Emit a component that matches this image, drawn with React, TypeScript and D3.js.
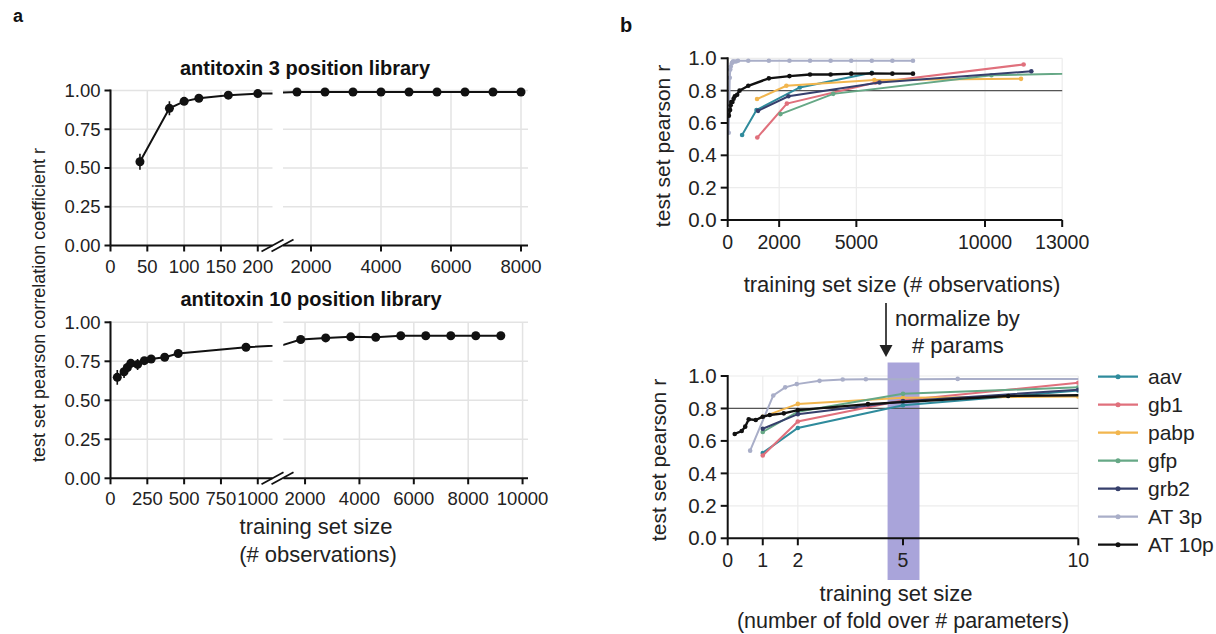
import React from 'react';
import * as d3 from 'd3';

const FONT = '"Liberation Sans", Arial, Helvetica, sans-serif';

// panel a: antitoxin 3 position library
const at3X = [40, 80, 100, 120, 160, 200, 1600, 2400, 3200, 4000, 4800, 5600, 6400, 7200, 8000];
const at3R = [0.54, 0.885, 0.93, 0.95, 0.97, 0.98, 0.99, 0.99, 0.99, 0.99, 0.99, 0.99, 0.99, 0.99, 0.99];
const at3Err = [0.052, 0.045, 0.015, 0.012, 0.008, 0.006, 0.003, 0.003, 0.003, 0.003, 0.003, 0.003, 0.003, 0.003, 0.003];
const at3TicksL = [0, 50, 100, 150, 200];
const at3TicksR = [2000, 4000, 6000, 8000];

// panel a: antitoxin 10 position library
const at10X = [46, 92, 115, 138, 184, 230, 276, 368, 460, 920, 1840, 2760, 3680, 4600, 5520, 6440, 7360, 8280, 9200];
const at10R = [0.647, 0.683, 0.71, 0.737, 0.73, 0.754, 0.765, 0.776, 0.8, 0.84, 0.89, 0.9, 0.907, 0.904, 0.914, 0.914, 0.914, 0.914, 0.914];
const at10Err = [0.047, 0.04, 0.03, 0.025, 0.035, 0.015, 0.012, 0.01, 0.01, 0.008, 0.006, 0.005, 0.005, 0.005, 0.005, 0.005, 0.005, 0.005, 0.005];
const at10TicksL = [0, 250, 500, 750, 1000];
const at10TicksR = [2000, 4000, 6000, 8000, 10000];

const aYTicks = [0, 0.25, 0.5, 0.75, 1];

// panel b: legend
const bNames = ['aav', 'gb1', 'pabp', 'gfp', 'grb2', 'AT 3p', 'AT 10p'];
const bColors = ['#2f8b9c', '#e0707c', '#f2b64e', '#66a886', '#363f6c', '#a9aec8', '#111111'];

// panel b top: training set size (# observations)
const aavObs = [560, 1120, 2800, 5600];
const aavObsR = [0.526, 0.68, 0.82, 0.91];
const gb1Obs = [1150, 2300, 5750, 11500];
const gb1ObsR = [0.51, 0.72, 0.85, 0.962];
const pabpObs = [1140, 2280, 5700, 11400];
const pabpObsR = [0.748, 0.83, 0.866, 0.873];
const gfpObs = [2050, 4100, 10250, 20500];
const gfpObsR = [0.655, 0.78, 0.895, 0.93];
const grb2Obs = [1180, 2360, 5900, 11800];
const grb2ObsR = [0.675, 0.765, 0.85, 0.92];
const at3Obs = [40, 80, 100, 120, 160, 200, 240, 320, 400, 800, 1600, 2400, 3200, 4000, 4800, 5600, 6400, 7200];
const at3ObsR = [0.54, 0.88, 0.93, 0.95, 0.97, 0.98, 0.98, 0.98, 0.985, 0.985, 0.985, 0.985, 0.985, 0.985, 0.985, 0.985, 0.985, 0.985];
const at10Obs = [46, 92, 115, 138, 184, 230, 276, 368, 460, 800, 1600, 2400, 3200, 4000, 4800, 5600, 6400, 7200];
const at10ObsR = [0.645, 0.68, 0.71, 0.73, 0.73, 0.75, 0.765, 0.775, 0.8, 0.83, 0.876, 0.89, 0.9, 0.9, 0.905, 0.907, 0.905, 0.905];
const obsTicks = [0, 2000, 5000, 10000, 13000];

// panel b bottom: number of fold over # parameters
const aavFold = [1, 2, 5, 10];
const aavFoldR = [0.526, 0.68, 0.82, 0.91];
const gb1Fold = [1, 2, 5, 10];
const gb1FoldR = [0.51, 0.72, 0.85, 0.958];
const pabpFold = [1, 2, 5, 10];
const pabpFoldR = [0.748, 0.828, 0.866, 0.873];
const gfpFold = [1, 2, 5, 10];
const gfpFoldR = [0.655, 0.78, 0.89, 0.93];
const grb2Fold = [1, 2, 5, 10];
const grb2FoldR = [0.675, 0.765, 0.845, 0.915];
const at3Fold = [0.64, 1.3, 1.64, 1.97, 2.62, 3.28, 3.94, 5.25, 6.56, 12.8];
const at3FoldR = [0.54, 0.88, 0.93, 0.95, 0.97, 0.978, 0.98, 0.98, 0.982, 0.982];
const at10Fold = [0.2, 0.4, 0.5, 0.6, 0.8, 1.0, 1.2, 1.6, 2.0, 4.0, 8.0, 12.0];
const at10FoldR = [0.643, 0.661, 0.688, 0.733, 0.729, 0.749, 0.76, 0.77, 0.79, 0.827, 0.877, 0.885];
const foldTicks = [0, 1, 2, 5, 10];
const shadeFold = [4.56, 5.47];

const bYTicks = [0, 0.2, 0.4, 0.6, 0.8, 1.0];
const refR = 0.8;

type Scale = d3.ScaleLinear<number, number>;

function BrokenPanel(props: {
  id: string;
  title: string;
  titleX: number;
  y: Scale;
  segs: { x: Scale; ticks: number[] }[];
  xs: number[];
  rs: number[];
  errs: number[];
}) {
  const { id, title, titleX, y, segs, xs, rs, errs } = props;
  const [y0, y1] = y.range();
  const grid = '#e3e3e3';
  const left = segs[0].x.range()[0];
  const brk = segs[0].x.range()[1];
  return (
    <g>
      {segs.map((s, si) => {
        const [xa, xb] = s.x.range();
        const line = d3
          .line<number>()
          .x((_, i) => s.x(xs[i]))
          .y((d) => y(d));
        return (
          <g key={si}>
            <clipPath id={`${id}-c${si}`}>
              <rect x={xa} y={y1 - 10} width={xb - xa} height={y0 - y1 + 20} />
            </clipPath>
            {aYTicks.slice(1).map((t) => (
              <line key={t} x1={xa} x2={xb} y1={y(t)} y2={y(t)} stroke={grid} strokeWidth={1.5} />
            ))}
            {s.ticks.map((t) => (
              <line key={t} x1={s.x(t)} x2={s.x(t)} y1={y0} y2={y1} stroke={grid} strokeWidth={1.5} />
            ))}
            <g clipPath={`url(#${id}-c${si})`}>
              <path d={line(rs) || ''} fill="none" stroke="#111" strokeWidth={2} />
              {rs.map((r, i) => (
                <line
                  key={'e' + i}
                  x1={s.x(xs[i])}
                  x2={s.x(xs[i])}
                  y1={y(r - errs[i])}
                  y2={y(r + errs[i])}
                  stroke="#111"
                  strokeWidth={1.6}
                />
              ))}
              {rs.map((r, i) => (
                <circle key={'p' + i} cx={s.x(xs[i])} cy={y(r)} r={4.5} fill="#111" />
              ))}
            </g>
            <line x1={xa} x2={xb} y1={y0} y2={y0} stroke="#111" strokeWidth={2} />
            {s.ticks.map((t) => (
              <g key={'t' + t}>
                <line x1={s.x(t)} x2={s.x(t)} y1={y0} y2={y0 + 6} stroke="#111" strokeWidth={2} />
                <text x={s.x(t)} y={y0 + 27} textAnchor="middle" fontSize={18.5} fill="#222">
                  {t}
                </text>
              </g>
            ))}
          </g>
        );
      })}
      <line x1={left} x2={left} y1={y0} y2={y1 - 1} stroke="#111" strokeWidth={2} />
      {aYTicks.map((t) => (
        <g key={'y' + t}>
          <line x1={left - 6} x2={left} y1={y(t)} y2={y(t)} stroke="#111" strokeWidth={2} />
          <text x={left - 10} y={y(t)} dy="0.35em" textAnchor="end" fontSize={18.5} fill="#222">
            {t.toFixed(2)}
          </text>
        </g>
      ))}
      {[0, 10].map((o) => (
        <line
          key={'b' + o}
          x1={brk - 11 + o}
          x2={brk + 11 + o}
          y1={y0 + 6}
          y2={y0 - 6}
          stroke="#111"
          strokeWidth={1.8}
        />
      ))}
      <text x={titleX} y={y1 - 16} textAnchor="middle" fontSize={20} fontWeight="bold" fill="#111">
        {title}
      </text>
    </g>
  );
}

function LinePanel(props: {
  id: string;
  x: Scale;
  y: Scale;
  xTicks: number[];
  series: { xs: number[]; rs: number[]; color: string }[];
  shade?: number[];
  shadeY?: number[];
}) {
  const { id, x, y, xTicks, series, shade, shadeY } = props;
  const [xa, xb] = x.range();
  const [y0, y1] = y.range();
  const grid = '#ececec';
  return (
    <g>
      <clipPath id={`${id}-clip`}>
        <rect x={xa} y={y1 - 10} width={xb - xa} height={y0 - y1 + 10} />
      </clipPath>
      {bYTicks.slice(1).map((t) => (
        <line key={t} x1={xa} x2={xb} y1={y(t)} y2={y(t)} stroke={grid} strokeWidth={1.2} />
      ))}
      {xTicks.slice(1).map((t) => (
        <line key={t} x1={x(t)} x2={x(t)} y1={y0} y2={y1} stroke={grid} strokeWidth={1.2} />
      ))}
      {shade && shadeY && (
        <rect x={x(shade[0])} y={shadeY[0]} width={x(shade[1]) - x(shade[0])} height={shadeY[1] - shadeY[0]} fill="#a9a4da" />
      )}
      <line x1={xa} x2={xb} y1={y(refR)} y2={y(refR)} stroke="#555" strokeWidth={1.2} />
      <g clipPath={`url(#${id}-clip)`}>
        {series.map((s, si) => {
          const line = d3
            .line<number>()
            .x((_, i) => x(s.xs[i]))
            .y((d) => y(d));
          return (
            <g key={si}>
              <path d={line(s.rs) || ''} fill="none" stroke={s.color} strokeWidth={si === 6 ? 2.4 : 2} />
              {s.rs.map((r, i) => (
                <circle key={i} cx={x(s.xs[i])} cy={y(r)} r={2.3} fill={s.color} />
              ))}
            </g>
          );
        })}
      </g>
      <line x1={xa} x2={xb} y1={y0} y2={y0} stroke="#111" strokeWidth={2} />
      <line x1={xa} x2={xa} y1={y0} y2={y1 - 1} stroke="#111" strokeWidth={2} />
      {xTicks.map((t) => (
        <g key={'x' + t}>
          <line x1={x(t)} x2={x(t)} y1={y0} y2={y0 + 7} stroke="#111" strokeWidth={2} />
          <text x={x(t)} y={y0 + 29} textAnchor="middle" fontSize={19.5} fill="#222">
            {t}
          </text>
        </g>
      ))}
      {bYTicks.map((t) => (
        <g key={'y' + t}>
          <line x1={xa - 7} x2={xa} y1={y(t)} y2={y(t)} stroke="#111" strokeWidth={2} />
          <text x={xa - 11} y={y(t)} dy="0.35em" textAnchor="end" fontSize={20.5} fill="#222">
            {t.toFixed(1)}
          </text>
        </g>
      ))}
    </g>
  );
}

export default function App() {
  const yA3 = d3.scaleLinear().domain([0, 1]).range([245.5, 90.5]);
  const xA3L = d3.scaleLinear().domain([0, 220]).range([110.5, 272.5]);
  const xA3R = d3.scaleLinear().domain([1200, 8200]).range([283, 528]);
  const yA10 = d3.scaleLinear().domain([0, 1]).range([478.3, 322.3]);
  const xA10L = d3.scaleLinear().domain([0, 1100]).range([110.5, 272.5]);
  const xA10R = d3.scaleLinear().domain([1200, 10200]).range([283.3, 528]);

  const xObs = d3.scaleLinear().domain([0, 13000]).range([727.7, 1062.2]);
  const yObs = d3.scaleLinear().domain([0, 1]).range([220, 58.3]);
  const xFold = d3.scaleLinear().domain([0, 10]).range([727.7, 1078.3]);
  const yFold = d3.scaleLinear().domain([0, 1]).range([538.3, 376]);

  const obsSeries = [
    { xs: aavObs, rs: aavObsR },
    { xs: gb1Obs, rs: gb1ObsR },
    { xs: pabpObs, rs: pabpObsR },
    { xs: gfpObs, rs: gfpObsR },
    { xs: grb2Obs, rs: grb2ObsR },
    { xs: at3Obs, rs: at3ObsR },
    { xs: at10Obs, rs: at10ObsR },
  ].map((s, i) => ({ ...s, color: bColors[i] }));
  const foldSeries = [
    { xs: aavFold, rs: aavFoldR },
    { xs: gb1Fold, rs: gb1FoldR },
    { xs: pabpFold, rs: pabpFoldR },
    { xs: gfpFold, rs: gfpFoldR },
    { xs: grb2Fold, rs: grb2FoldR },
    { xs: at3Fold, rs: at3FoldR },
    { xs: at10Fold, rs: at10FoldR },
  ].map((s, i) => ({ ...s, color: bColors[i] }));

  return (
    <svg
      width={1216}
      height={634}
      style={{ position: 'absolute', left: 0, top: 0, background: '#fff' }}
      fontFamily={FONT}
    >
      <rect width={1216} height={634} fill="#fff" />
      <text x={13} y={22} fontSize={18} fontWeight="bold" fill="#111">a</text>
      <text x={620} y={32} fontSize={20} fontWeight="bold" fill="#111">b</text>

      <BrokenPanel
        id="a3"
        title="antitoxin 3 position library"
        titleX={305}
        y={yA3}
        segs={[
          { x: xA3L, ticks: at3TicksL },
          { x: xA3R, ticks: at3TicksR },
        ]}
        xs={at3X}
        rs={at3R}
        errs={at3Err}
      />
      <BrokenPanel
        id="a10"
        title="antitoxin 10 position library"
        titleX={311}
        y={yA10}
        segs={[
          { x: xA10L, ticks: at10TicksL },
          { x: xA10R, ticks: at10TicksR },
        ]}
        xs={at10X}
        rs={at10R}
        errs={at10Err}
      />
      <text transform="translate(45,305) rotate(-90)" textAnchor="middle" fontSize={18} fill="#222">
        test set pearson correlation coefficient r
      </text>
      <text x={316} y={534} textAnchor="middle" fontSize={22} fill="#222">training set size</text>
      <text x={318} y={562} textAnchor="middle" fontSize={22} fill="#222">(# observations)</text>

      <LinePanel id="bo" x={xObs} y={yObs} xTicks={obsTicks} series={obsSeries} />
      <text transform="translate(670,146) rotate(-90)" textAnchor="middle" fontSize={21} fill="#222">
        test set pearson r
      </text>
      <text x={902} y={292} textAnchor="middle" fontSize={22} fill="#222">training set size (# observations)</text>

      <line x1={886} x2={886} y1={303} y2={346} stroke="#333" strokeWidth={1.8} />
      <path d="M879.5,345 L892.5,345 L886,357 Z" fill="#222" />
      <text x={895} y={326} fontSize={22} fill="#222">normalize by</text>
      <text x={912} y={353} fontSize={22} fill="#222"># params</text>

      <LinePanel
        id="bf"
        x={xFold}
        y={yFold}
        xTicks={foldTicks}
        series={foldSeries}
        shade={shadeFold}
        shadeY={[362.5, 580]}
      />
      <text transform="translate(666,460) rotate(-90)" textAnchor="middle" fontSize={21} fill="#222">
        test set pearson r
      </text>
      <text x={896} y={601} textAnchor="middle" fontSize={22} fill="#222">training set size</text>
      <text x={903} y={628} textAnchor="middle" fontSize={21.5} fill="#222">(number of fold over # parameters)</text>

      {bNames.map((n, i) => {
        const ly = 376.7 + i * 28;
        return (
          <g key={n}>
            <line x1={1098} x2={1138} y1={ly} y2={ly} stroke={bColors[i]} strokeWidth={2.2} />
            <circle cx={1118} cy={ly} r={2.5} fill={bColors[i]} />
            <text x={1148} y={ly} dy="0.35em" fontSize={21} fill="#222">{n}</text>
          </g>
        );
      })}
    </svg>
  );
}
